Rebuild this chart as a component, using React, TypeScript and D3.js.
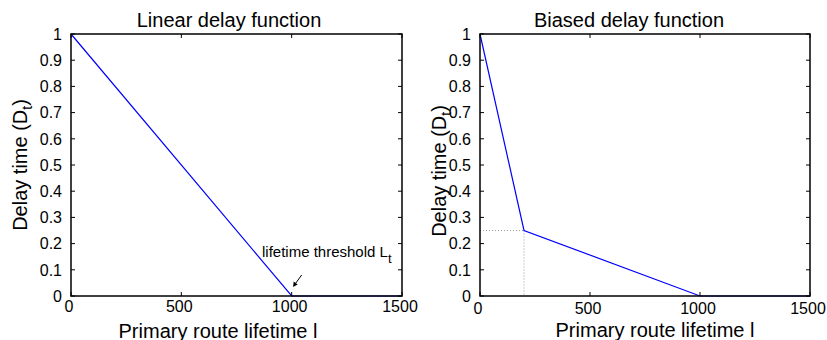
import React from "react";
import * as d3 from "d3";

// tick values and labels
const xTicks = [0, 500, 1000, 1500];
const yTicks = [0, 0.1, 0.2, 0.3, 0.4, 0.5, 0.6, 0.7, 0.8, 0.9, 1];
const yTickLabels = ["0", "0.1", "0.2", "0.3", "0.4", "0.5", "0.6", "0.7", "0.8", "0.9", "1"];

// linear delay function
const linearX = [0, 1000, 1500];
const linearY = [1, 0, 0];

// biased delay function
const biasedX = [0, 200, 1000, 1500];
const biasedY = [1, 0.25, 0, 0];

// dotted guide at the knee of the biased curve
const kneeX = 200;
const kneeY = 0.25;

const width = 827;
const height = 340;
const top = 34;
const bottom = 296;

type PanelProps = {
  left: number;
  right: number;
  title: string;
  titleX: number;
  labelX: number;
  labelY: number;
  yLabelX: number;
  yLabelY: number;
  tickY: number;
  xs: number[];
  ys: number[];
  knee?: boolean;
  note?: boolean;
};

function Panel(p: PanelProps) {
  const x = d3.scaleLinear().domain([0, 1500]).range([p.left, p.right]);
  const y = d3.scaleLinear().domain([0, 1]).range([bottom, top]);
  const line = d3
    .line<number>()
    .x((d) => x(d))
    .y((d, i) => y(p.ys[i]));
  const tl = 4; // tick length, ticks point inward

  return (
    <g>
      {/* title */}
      <text x={p.titleX} y={27} textAnchor="middle" fontSize={20}>
        {p.title}
      </text>

      {/* dotted guide */}
      {p.knee && (
        <g stroke="#999" strokeWidth={1} strokeDasharray="1,2" fill="none">
          <line x1={x(0)} y1={y(kneeY)} x2={x(kneeX)} y2={y(kneeY)} />
          <line x1={x(kneeX)} y1={y(kneeY)} x2={x(kneeX)} y2={y(0)} />
        </g>
      )}

      {/* data */}
      <path d={line(p.xs) || ""} fill="none" stroke="#0000ff" strokeWidth={1.2} />

      {/* box */}
      <rect
        x={p.left}
        y={top}
        width={p.right - p.left}
        height={bottom - top}
        fill="none"
        stroke="#000"
        strokeWidth={1.5}
      />

      {/* x ticks */}
      {xTicks.map((t) => (
        <g key={"x" + t}>
          <line x1={x(t)} x2={x(t)} y1={bottom} y2={bottom - tl} stroke="#000" />
          <line x1={x(t)} x2={x(t)} y1={top} y2={top + tl} stroke="#000" />
          <text x={x(t) - 2} y={p.tickY} textAnchor="middle" fontSize={16}>
            {t}
          </text>
        </g>
      ))}

      {/* y ticks */}
      {yTicks.map((t, i) => (
        <g key={"y" + t}>
          <line x1={p.left} x2={p.left + tl} y1={y(t)} y2={y(t)} stroke="#000" />
          <line x1={p.right} x2={p.right - tl} y1={y(t)} y2={y(t)} stroke="#000" />
          <text
            x={p.left - 9}
            y={y(t)}
            dy="0.36em"
            textAnchor="end"
            fontSize={16}
          >
            {yTickLabels[i]}
          </text>
        </g>
      ))}

      {/* axis labels */}
      <text x={p.labelX} y={p.labelY} textAnchor="middle" fontSize={20}>
        Primary route lifetime l
      </text>
      <text
        transform={`translate(${p.yLabelX},${p.yLabelY})rotate(-90)`}
        textAnchor="middle"
        fontSize={20}
      >
        Delay time (D
        <tspan fontSize={14} dy={5}>t</tspan>
        <tspan dy={-5}>)</tspan>
      </text>

      {/* threshold annotation */}
      {p.note && (
        <g>
          <text x={262} y={257} fontSize={15}>
            lifetime threshold L
            <tspan fontSize={13} dy={6}>t</tspan>
          </text>
          <line
            x1={x(1000) + 10}
            y1={y(0) - 21}
            x2={x(1000) + 2}
            y2={y(0) - 10}
            stroke="#000"
            strokeWidth={1}
          />
          <path
            d={`M${x(1000) + 1.5},${y(0) - 9} l0.5,-5.5 l4,3 z`}
            fill="#000"
          />
        </g>
      )}
    </g>
  );
}

export default function App() {
  return (
    <svg
      width={width}
      height={height}
      style={{ position: "absolute", left: 0, top: 0, fontFamily: "'Liberation Sans', Arial, sans-serif" }}
    >
      <rect width={width} height={height} fill="#fff" />
      <Panel
        left={71}
        right={402}
        title="Linear delay function"
        titleX={229}
        labelX={218}
        labelY={337.5}
        yLabelX={27}
        yLabelY={165}
        tickY={312}
        xs={linearX}
        ys={linearY}
        note
      />
      <Panel
        left={480}
        right={810}
        title="Biased delay function"
        titleX={629}
        labelX={655}
        labelY={336.5}
        yLabelX={446}
        yLabelY={171}
        tickY={314}
        xs={biasedX}
        ys={biasedY}
        knee
      />
    </svg>
  );
}
